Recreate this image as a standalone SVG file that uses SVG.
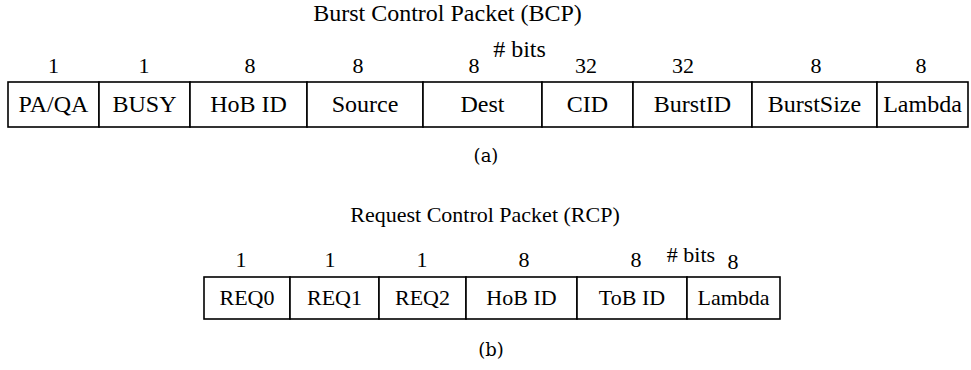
<svg xmlns="http://www.w3.org/2000/svg" width="971" height="370" viewBox="0 0 971 370">
<style>
  .box { fill: #fff; stroke: #000; stroke-width: 1.6; }
  .t { font-family: "Liberation Serif", "Times New Roman", serif; fill: #000; text-anchor: middle; }
  .lbl { font-size: 24px; }
  .lbl2 { font-size: 22px; }
  .num { font-size: 22px; }
  .cap { font-family: "DejaVu Serif", "Liberation Serif", serif; font-size: 18px; fill: #000; text-anchor: middle; }
</style>
<rect width="971" height="370" fill="#fff"/>

<!-- (a) Burst Control Packet -->
<text class="t lbl" x="447.5" y="21">Burst Control Packet (BCP)</text>
<text class="t lbl" x="519.5" y="57"># bits</text>
<g class="t num">
  <text x="53.5" y="73">1</text>
  <text x="144" y="73">1</text>
  <text x="250" y="73">8</text>
  <text x="358" y="73">8</text>
  <text x="474" y="73">8</text>
  <text x="586" y="73">32</text>
  <text x="683" y="73">32</text>
  <text x="816" y="73">8</text>
  <text x="921" y="73">8</text>
</g>
<g id="bcp-paqa"><rect class="box" x="8" y="82" width="91" height="45"/><text class="t lbl" x="53.5" y="112">PA/QA</text></g>
<g id="bcp-busy"><rect class="box" x="99" y="82" width="91" height="45"/><text class="t lbl" x="144.5" y="112">BUSY</text></g>
<g id="bcp-hobid"><rect class="box" x="190" y="82" width="117" height="45"/><text class="t lbl" x="248.5" y="112">HoB ID</text></g>
<g id="bcp-source"><rect class="box" x="307" y="82" width="116" height="45"/><text class="t lbl" x="365" y="112">Source</text></g>
<g id="bcp-dest"><rect class="box" x="423" y="82" width="119" height="45"/><text class="t lbl" x="482.5" y="112">Dest</text></g>
<g id="bcp-cid"><rect class="box" x="542" y="82" width="91" height="45"/><text class="t lbl" x="587.5" y="112">CID</text></g>
<g id="bcp-burstid"><rect class="box" x="633" y="82" width="119" height="45"/><text class="t lbl" x="692.5" y="112">BurstID</text></g>
<g id="bcp-burstsize"><rect class="box" x="752" y="82" width="125" height="45"/><text class="t lbl" x="814.5" y="112">BurstSize</text></g>
<g id="bcp-lambda"><rect class="box" x="877" y="82" width="91" height="45"/><text class="t lbl" x="922.5" y="112">Lambda</text></g>
<text class="cap" x="486" y="162">(a)</text>

<!-- (b) Request Control Packet -->
<text class="t lbl2" x="485" y="222">Request Control Packet (RCP)</text>
<text class="t lbl2" x="691" y="262"># bits</text>
<g class="t num">
  <text x="241" y="267">1</text>
  <text x="330" y="267">1</text>
  <text x="422" y="267">1</text>
  <text x="524" y="267">8</text>
  <text x="636" y="267">8</text>
  <text x="733" y="269">8</text>
</g>
<g id="rcp-req0"><rect class="box" x="204" y="277" width="86" height="42"/><text class="t lbl2" x="247" y="305">REQ0</text></g>
<g id="rcp-req1"><rect class="box" x="290" y="277" width="89" height="42"/><text class="t lbl2" x="334.5" y="305">REQ1</text></g>
<g id="rcp-req2"><rect class="box" x="379" y="277" width="87" height="42"/><text class="t lbl2" x="422.5" y="305">REQ2</text></g>
<g id="rcp-hobid"><rect class="box" x="466" y="277" width="111" height="42"/><text class="t lbl2" x="521.5" y="305">HoB ID</text></g>
<g id="rcp-tobid"><rect class="box" x="577" y="277" width="110" height="42"/><text class="t lbl2" x="632" y="305">ToB ID</text></g>
<g id="rcp-lambda"><rect class="box" x="687" y="277" width="93" height="42"/><text class="t lbl2" x="733.5" y="305">Lambda</text></g>
<text class="cap" x="491" y="356">(b)</text>
</svg>
